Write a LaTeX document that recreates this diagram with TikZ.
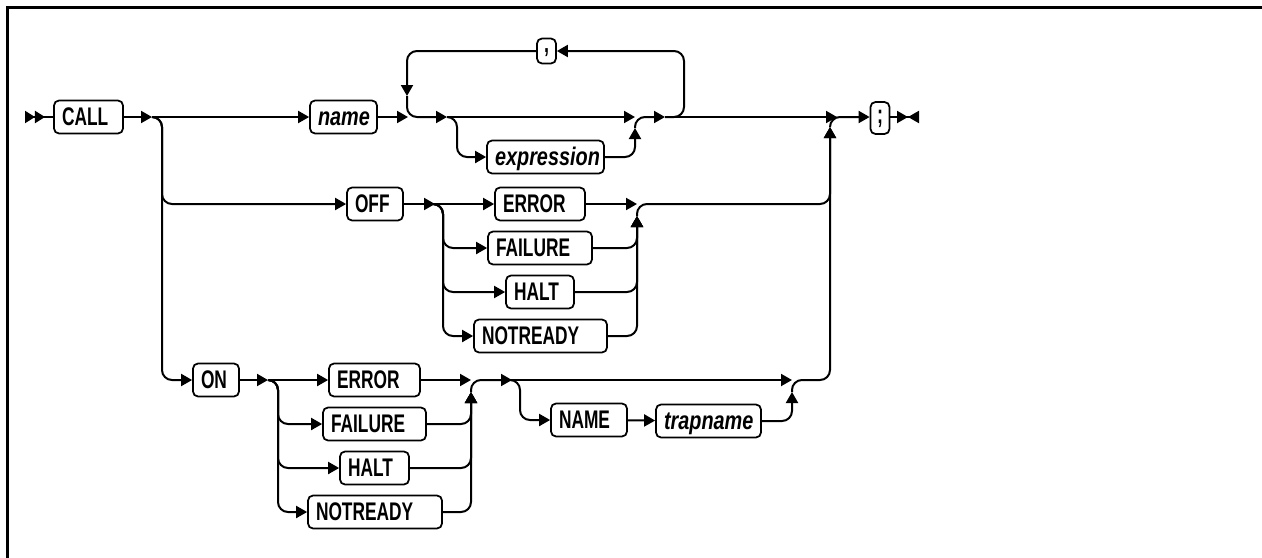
\documentclass[tikz,border=0pt]{standalone}
\usepackage{fontspec}
\usetikzlibrary{arrows.meta}
\newfontfamily\kwfont[FakeStretch=0.68]{Liberation Sans}
\newfontfamily\varfont[FakeStretch=0.78]{Liberation Sans}
\tikzset{
	rail/.style={line width=0.04cm, -{Triangle[length=0.22cm,width=0.24cm]}, rounded corners=0.2cm},
	railend/.style={line width=0.04cm, -{Triangle[length=0.22cm,width=0.24cm]Triangle[reversed,length=0.22cm,width=0.24cm]}},
	railstart/.style={line width=0.04cm, {Triangle[reversed,length=0.2cm,width=0.24cm]Triangle[reversed,length=0.2cm,width=0.24cm]}-},
	box/.style={draw, line width=0.035cm, rounded corners=0.1cm, minimum height=0.66cm, inner xsep=0.16cm, inner ysep=0pt, align=left, text height=0.36cm, text depth=0.02cm},
	kw/.style={box, text width=#1, font=\kwfont\bfseries\fontsize{14.5}{17}\selectfont},
	var/.style={box, text width=#1, font=\varfont\bfseries\itshape\fontsize{14.5}{17}\selectfont},
	sym/.style={draw, line width=0.035cm, rounded corners=0.1cm, minimum width=0.38cm, minimum height=0.5cm, inner sep=0pt, text height=0.12cm, text depth=0.06cm, font=\kwfont\bfseries\fontsize{15}{17}\selectfont},
	symtall/.style={sym, minimum height=0.64cm, text height=0.28cm, text depth=0.08cm},
}
\begin{document}
\begin{tikzpicture}[x=0.02cm, y=-0.02cm]
	\useasboundingbox (0,0) rectangle (1262,558);
	\draw[line width=0.06cm] (7.5,558) -- (7.5,7.5) -- (1262,7.5);

	% main row
	\node[kw=1.06cm] (call) at (88.5,117) {CALL};
	\node[var=1.02cm] (name) at (343.5,117) {name};
	\node[sym] (comma) at (546.5,51) {,};
	\node[var=2.02cm] (expr) at (545.5,157) {expression};
	\node[symtall] (semi) at (880,118) {;};

	% OFF row
	\node[kw=0.8cm] (off) at (375,204) {OFF};
	\node[kw=1.48cm] (offerr) at (540,204) {ERROR};
	\node[kw=1.76cm] (offfail) at (540,248) {FAILURE};
	\node[kw=1.04cm] (offhalt) at (540,292) {HALT};
	\node[kw=2.34cm] (offnot) at (540.5,336) {NOTREADY};

	% ON row
	\node[kw=0.6cm] (on) at (216,380) {ON};
	\node[kw=1.5cm] (onerr) at (374.5,380) {ERROR};
	\node[kw=1.74cm] (onfail) at (374.5,424) {FAILURE};
	\node[kw=1.06cm] (onhalt) at (374.5,468) {HALT};
	\node[kw=2.36cm] (onnot) at (375,512) {NOTREADY};
	\node[kw=1.2cm] (namekw) at (589,420) {NAME};
	\node[var=1.78cm] (trap) at (708.5,421) {trapname};

	\coordinate (start) at (25,117);
	\coordinate (end) at (919,117);
	\coordinate (b1) at (152,117);
	\coordinate (col1) at (162,0);
	\coordinate (lp) at (408,117);
	\coordinate (lpin) at (407,96);
	\coordinate (b2) at (447,117);
	\coordinate (c2) at (457,157);
	\coordinate (m1) at (635,117);
	\coordinate (m1in) at (635,128);
	\coordinate (b3) at (665,117);
	\coordinate (lpr) at (684,51);
	\coordinate (m2) at (837,117);
	\coordinate (m2in) at (830,127);
	\coordinate (col8) at (830,0);
	\coordinate (o1) at (435,204);
	\coordinate (col3) at (443,0);
	\coordinate (m3) at (637,204);
	\coordinate (m3in) at (637,216);
	\coordinate (n1) at (268,380);
	\coordinate (col5) at (278,0);
	\coordinate (m5) at (471,380);
	\coordinate (m5in) at (471,392);
	\coordinate (n2) at (512,380);
	\coordinate (c6) at (520,420);
	\coordinate (m6) at (792,380);
	\coordinate (m6in) at (792,392);

	\draw[railstart] (start) -- (call);
	\draw[rail] (call) -- (b1);
	\draw[rail] (b1) -- (name);
	\draw[rail] (b1) -| (col1 |- off) -- (off);
	\draw[rail] (b1) -| (col1 |- on) -- (on);
	\draw[rail] (name) -- (lp);
	\draw[rail] (comma) -| (lpin);
	\draw[rail] (lpin) |- (b2);
	\draw[rail] (b2) -- (m1);
	\draw[rail] (b2) -| (c2) -- (expr);
	\draw[rail] (expr) -| (m1in);
	\draw[rail] (m1in) |- (b3);
	\draw[rail] (b3) -| (lpr) -- (comma);
	\draw[rail] (b3) -- (m2);
	\draw[rail] (m2in) |- (semi.west |- b3);
	\draw[railend] (semi.east |- end) -- (end);

	\draw[rail] (off) -- (o1);
	\draw[rail] (o1) -- (offerr);
	\foreach \n in {offfail, offhalt, offnot} {
		\draw[rail] (o1) -| (col3 |- \n) -- (\n);
		\draw[rail] (\n) -| (m3in);
	}
	\draw[rail] (offerr) -- (m3);
	\draw[rail] (m3in) |- (col8 |- off) -- (m2in);

	\draw[rail] (on) -- (n1);
	\draw[rail] (n1) -- (onerr);
	\foreach \n in {onfail, onhalt, onnot} {
		\draw[rail] (n1) -| (col5 |- \n) -- (\n);
		\draw[rail] (\n) -| (m5in);
	}
	\draw[rail] (onerr) -- (m5);
	\draw[rail] (m5in) |- (n2);
	\draw[rail] (n2) -- (m6);
	\draw[rail] (n2) -| (c6) -- (namekw);
	\draw[rail] (namekw) -- (trap);
	\draw[rail] (trap) -| (m6in);
	\draw[rail] (m6in) |- (col8 |- on) -- (m2in);
\end{tikzpicture}
\end{document}
